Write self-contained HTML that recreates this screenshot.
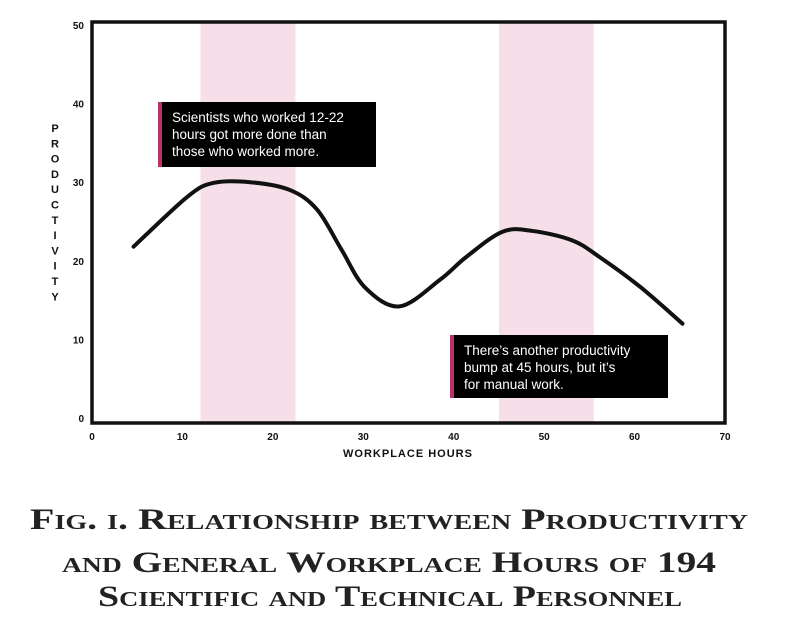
<!DOCTYPE html>
<html><head><meta charset="utf-8"><style>
html,body{margin:0;padding:0;background:#fff;width:800px;height:629px;overflow:hidden}
.note{position:absolute;background:#000;color:#fff;font:13.5px/17px "Liberation Sans",sans-serif;padding:7px 8px 7px 10px;box-sizing:border-box;border-left:4px solid #b8326c;white-space:nowrap}
</style></head><body>
<svg id="chart" width="800" height="629" style="position:absolute;left:0;top:0" xmlns="http://www.w3.org/2000/svg"></svg>
<div class="note" style="left:158px;top:102px;width:218px;height:65px">Scientists who worked 12-22<br>hours got more done than<br>those who worked more.</div>
<div class="note" style="left:450px;top:335px;width:218px;height:63px">There’s another productivity<br>bump at 45 hours, but it’s<br>for manual work.</div>
<script>
const hours=[4.6,10.5,13.4,17.5,21.9,24.9,27.6,30.2,34,38.5,41.4,45.4,48.7,53.1,56.1,60.6,65.3];
const productivity=[21.8,28.1,29.9,30.0,29.0,26.5,21.4,16.6,14.2,17.6,20.5,23.7,23.8,22.6,20.5,16.7,12.0];
const xTicks=[0,10,20,30,40,50,60,70];
const yTicks=[0,10,20,30,40,50];
const yTickLabels=["0","10","20","30","40","50"];
const bands=[[12,22.5],[45,55.5]];
const svg=document.getElementById('chart');
const NS='http://www.w3.org/2000/svg';
const L=92,R=725,T=22,B=423;
const x=h=>L+h*(R-L)/70;
const y=v=>418-v*7.86;
function mk(t,a,p){const e=document.createElementNS(NS,t);for(const k in a)e.setAttribute(k,a[k]);(p||svg).appendChild(e);return e;}
bands.forEach((b,i)=>{
 const r=mk('rect',{x:x(b[0]),y:T,width:x(b[1])-x(b[0]),height:B-T,fill:'#f7dfea'});
 
 
});
const frame=mk('rect',{x:L,y:T,width:R-L,height:B-T,fill:'none',stroke:'#111','stroke-width':3.5});


xTicks.forEach(t=>{
 const e=mk('text',{x:x(t),y:440,'font-family':'Liberation Sans,sans-serif','font-size':10,'font-weight':'bold','text-anchor':'middle',fill:'#111'});
 e.textContent=t;
 
 
});
yTicks.forEach((t,i)=>{
 const e=mk('text',{x:84,y:y(t)+4,'font-family':'Liberation Sans,sans-serif','font-size':10,'font-weight':'bold','text-anchor':'end',fill:'#111'});
 e.textContent=yTickLabels[i];
 
 
});
const xt=mk('text',{x:408,y:457,'font-family':'Liberation Sans,sans-serif','font-size':11,'font-weight':'bold','text-anchor':'middle',fill:'#111','letter-spacing':1});
xt.setAttribute('xml:space','preserve');
xt.textContent='WORKPLACE   HOURS';


const yt=mk('g',{});


'PRODUCTIVITY'.split('').forEach((c,i)=>{
 const e=mk('text',{x:55,y:132+i*15.3,'font-family':'Liberation Sans,sans-serif','font-size':11,'font-weight':'bold','text-anchor':'middle',fill:'#111'},yt);
 e.textContent=c;
});
const pts=hours.map((h,i)=>[x(h),y(productivity[i])]);
let d='M'+pts[0][0]+','+pts[0][1];
for(let i=0;i<pts.length-1;i++){
 const p0=pts[i-1]||pts[i],p1=pts[i],p2=pts[i+1],p3=pts[i+2]||p2;
 const c1=[p1[0]+(p2[0]-p0[0])/6,p1[1]+(p2[1]-p0[1])/6];
 const c2=[p2[0]-(p3[0]-p1[0])/6,p2[1]-(p3[1]-p1[1])/6];
 d+=` C${c1[0]},${c1[1]} ${c2[0]},${c2[1]} ${p2[0]},${p2[1]}`;
}
const line=mk('path',{d:d,fill:'none',stroke:'#111','stroke-width':4,'stroke-linecap':'round','stroke-linejoin':'round'});


const caps=[["Fig. i.  Relationship between Productivity",30,718,529],["and General Workplace Hours of 194",62,654,572],["Scientific and Technical Personnel",98,584,606]];
caps.forEach((c,i)=>{
 const e=mk('text',{x:c[1],y:c[3],textLength:c[2],lengthAdjust:'spacingAndGlyphs','font-family':'Liberation Serif,serif','font-size':30,'font-weight':'bold','font-variant':'small-caps',fill:'#222'});
 e.setAttribute('xml:space','preserve');
 e.textContent=c[0];
 
 
});
</script>
</body></html>
